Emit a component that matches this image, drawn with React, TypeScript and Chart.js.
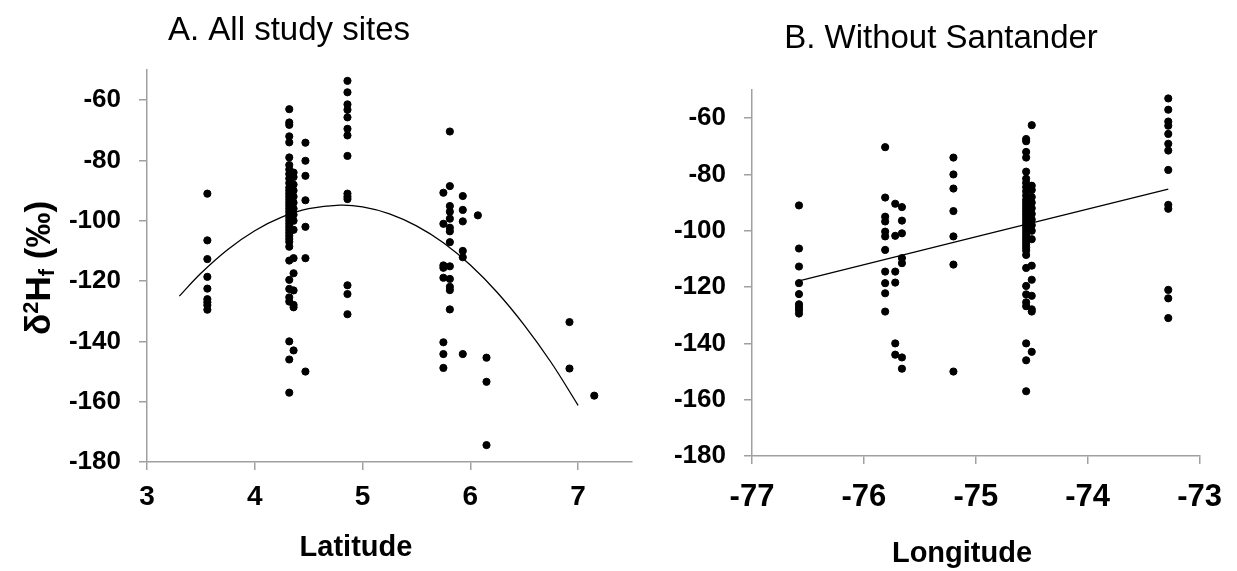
import React, { useEffect, useRef } from "react";
import { Chart, registerables } from "chart.js";

Chart.register(...registerables);

// ---------- data ----------
const latitudeSites = [3.56, 4.32, 4.36, 4.47, 4.86, 5.75, 5.81, 5.93, 6.07, 6.15, 6.92, 7.15];
const latitudeValues = [
  [-91, -106.5, -112.7, -118.6, -122.5, -126, -127, -128, -129.5],
  [-63, -67.4, -68.2, -72, -74, -79, -81.5, -83, -84.5, -86, -87.5, -89, -90, -91, -92, -93, -94, -95, -96, -97, -98, -99, -100, -101, -102, -103, -104, -105, -106, -107, -108.6, -113.2, -119.6, -122.6, -125.4, -126.8, -140, -146, -157],
  [-84, -85.5, -88, -90, -92, -94, -96, -98, -100, -103, -112.4, -117.4, -123.1, -127.9, -128.7, -143],
  [-74.1, -80.1, -85.1, -93.2, -102, -112.4, -150],
  [-53.6, -57.4, -61.4, -63.2, -65.7, -69.5, -71.7, -78.5, -91, -92, -92.8, -121.4, -124.3, -131],
  [-90.7, -101, -114.8, -115.6, -118.9, -140.3, -144.2, -148.8],
  [-70.4, -88.5, -95.1, -97, -99.3, -102.3, -103.5, -107.1, -115.1, -119.3, -121.9, -123, -129.4],
  [-91.8, -96.4, -100.2, -110, -112.1, -144.2],
  [-98.2],
  [-145.4, -153.4, -174.4],
  [-133.6, -149],
  [-158],
];

const longitudeSites = [-76.58, -75.81, -75.72, -75.66, -75.2, -74.55, -74.5, -73.28];
const longitudeValues = [
  [-91, -106.3, -112.7, -118.6, -122.5, -126.1, -127.1, -128.1, -129.4],
  [-70.3, -88.2, -95, -96.7, -100.3, -102, -106.8, -114.5, -118.6, -122.2, -128.7],
  [-90.4, -101.8, -114.5, -118.4, -140, -144],
  [-91.6, -96.4, -100.9, -109.7, -111.5, -145, -149],
  [-74, -80, -85, -93, -102, -112, -150],
  [-67.4, -68.2, -72, -74, -79, -81.5, -83, -84.5, -86, -87.5, -89, -90, -91, -92, -93, -94, -95, -96, -97, -98, -99, -100, -101, -102, -103, -104, -105, -106, -107, -108.6, -113.2, -119.6, -122.6, -125.4, -126.8, -140, -146, -157],
  [-62.5, -84, -85.5, -88, -90, -92, -94, -96, -98, -100, -103, -112.4, -117.4, -123.1, -127.9, -128.7, -143],
  [-53, -57, -61.2, -62.7, -65.6, -69.1, -71.5, -78.4, -90.8, -92.2, -121, -124, -131],
];

const curveLatitude = [3.3, 3.5, 3.75, 4.0, 4.25, 4.5, 4.79, 5.0, 5.25, 5.5, 5.75, 6.0, 6.25, 6.5, 6.75, 7.0];
const curveValues = [-125.0, -117.4, -109.5, -103.3, -98.8, -96.0, -94.8, -95.4, -97.7, -101.7, -107.3, -114.7, -123.8, -134.6, -147.0, -161.2];

const lineLongitude = [-76.58, -73.28];
const lineValues = [-117.8, -85.2];

const yTicks = [-180, -160, -140, -120, -100, -80, -60];
const latTicks = [3, 4, 5, 6, 7];
const lonTicks = [-77, -76, -75, -74, -73];

// ---------- helpers ----------
const FONT = '"Liberation Sans", Arial, Helvetica, sans-serif';

function toPoints(sites: number[], values: number[][]) {
  const pts: { x: number; y: number }[] = [];
  sites.forEach((s, i) => values[i].forEach((v) => pts.push({ x: s, y: v })));
  return pts;
}

function zip(xs: number[], ys: number[]) {
  return xs.map((x, i) => ({ x, y: ys[i] }));
}

type PanelOpts = {
  points: { x: number; y: number }[];
  fit: { x: number; y: number }[];
  xMin: number;
  xMax: number;
  xTicks: number[];
  padding: { left: number; right: number; top: number; bottom: number };
  xFont: number;
  xPad: number;
  texts: (ctx: CanvasRenderingContext2D) => void;
};

function makeConfig(o: PanelOpts): any {
  const axisColor = "#a0a0a0";
  return {
    type: "scatter",
    data: {
      datasets: [
        {
          data: o.points,
          backgroundColor: "#000",
          borderColor: "#000",
          pointRadius: 3.6,
          pointHoverRadius: 3.6,
          showLine: false,
        },
        {
          data: o.fit,
          showLine: true,
          borderColor: "#000",
          borderWidth: 1.3,
          pointRadius: 0,
          tension: 0.4,
          fill: false,
        },
      ],
    },
    options: {
      responsive: false,
      animation: false,
      events: [],
      layout: { padding: o.padding },
      plugins: { legend: { display: false }, tooltip: { enabled: false }, title: { display: false } },
      scales: {
        x: {
          type: "linear",
          min: o.xMin,
          max: o.xMax,
          afterBuildTicks: (s: any) => {
            s.ticks = o.xTicks.map((v) => ({ value: v }));
          },
          afterFit: (s: any) => {
            s.height = 80;
          },
          grid: { display: true, drawOnChartArea: false, drawTicks: true, tickLength: 8, color: axisColor, lineWidth: 1.5 },
          border: { display: true, color: axisColor, width: 1.5 },
          ticks: {
            color: "#000",
            padding: o.xPad,
            maxRotation: 0,
            font: { family: FONT, size: o.xFont, weight: "bold" },
            callback: (v: any) => String(v),
          },
        },
        y: {
          type: "linear",
          min: -180,
          max: -50,
          afterBuildTicks: (s: any) => {
            s.ticks = yTicks.map((v) => ({ value: v }));
          },
          afterFit: (s: any) => {
            s.width = 90;
          },
          grid: { display: true, drawOnChartArea: false, drawTicks: true, tickLength: 8, color: axisColor, lineWidth: 1.5 },
          border: { display: true, color: axisColor, width: 1.5 },
          ticks: {
            color: "#000",
            padding: 18,
            font: { family: FONT, size: 26, weight: "bold" },
            callback: (v: any) => String(v),
          },
        },
      },
    },
    plugins: [
      {
        id: "texts",
        afterDraw: (chart: any) => {
          const ctx = chart.ctx as CanvasRenderingContext2D;
          ctx.save();
          o.texts(ctx);
          ctx.restore();
        },
      },
    ],
  };
}

function drawYTitle(ctx: CanvasRenderingContext2D) {
  ctx.save();
  ctx.translate(40, 268);
  ctx.rotate(-Math.PI / 2);
  ctx.fillStyle = "#000";
  ctx.textAlign = "left";
  ctx.textBaseline = "middle";
  const big = 35;
  const small = 22;
  const parts: { t: string; size: number; dy: number }[] = [
    { t: "δ", size: big, dy: 0 },
    { t: "2", size: small, dy: -8 },
    { t: "H", size: big, dy: 0 },
    { t: "f", size: small, dy: 8 },
    { t: " (‰)", size: big, dy: 0 },
  ];
  let total = 0;
  parts.forEach((p) => {
    ctx.font = `bold ${p.size}px ${FONT}`;
    total += ctx.measureText(p.t).width;
  });
  let x = -total / 2;
  parts.forEach((p) => {
    ctx.font = `bold ${p.size}px ${FONT}`;
    ctx.fillText(p.t, x, p.dy);
    x += ctx.measureText(p.t).width;
  });
  ctx.restore();
}

function Panel({ opts }: { opts: PanelOpts }) {
  const ref = useRef<HTMLCanvasElement | null>(null);
  useEffect(() => {
    if (!ref.current) return;
    const chart = new Chart(ref.current, makeConfig(opts));
    return () => chart.destroy();
  }, []);
  return (
    <canvas
      ref={ref}
      width={1237}
      height={571}
      style={{ position: "absolute", left: 0, top: 0, width: 1237, height: 571 }}
    />
  );
}

const leftOpts: PanelOpts = {
  points: toPoints(latitudeSites, latitudeValues),
  fit: zip(curveLatitude, curveValues),
  xMin: 3,
  xMax: 7.5,
  xTicks: latTicks,
  padding: { left: 57, right: 605, top: 70, bottom: 29 },
  xFont: 28,
  xPad: 10,
  texts: (ctx) => {
    ctx.fillStyle = "#000";
    ctx.textAlign = "center";
    ctx.textBaseline = "alphabetic";
    ctx.font = `33px ${FONT}`;
    ctx.fillText("A. All study sites", 289, 40);
    ctx.font = `bold 29px ${FONT}`;
    ctx.fillText("Latitude", 356, 556);
    drawYTitle(ctx);
  },
};

const rightOpts: PanelOpts = {
  points: toPoints(longitudeSites, longitudeValues),
  fit: zip(lineLongitude, lineValues),
  xMin: -77,
  xMax: -73,
  xTicks: lonTicks,
  padding: { left: 662, right: 33, top: 90, bottom: 35 },
  xFont: 31,
  xPad: 15,
  texts: (ctx) => {
    ctx.fillStyle = "#000";
    ctx.textAlign = "center";
    ctx.textBaseline = "alphabetic";
    ctx.font = `33px ${FONT}`;
    ctx.fillText("B. Without Santander", 941, 48);
    ctx.font = `bold 29px ${FONT}`;
    ctx.fillText("Longitude", 962, 562);
  },
};

export default function App() {
  useEffect(() => {
    document.body.style.margin = "0";
  }, []);
  return (
    <div style={{ position: "relative", width: 1237, height: 571, background: "#fff", overflow: "hidden" }}>
      <Panel opts={leftOpts} />
      <Panel opts={rightOpts} />
    </div>
  );
}
